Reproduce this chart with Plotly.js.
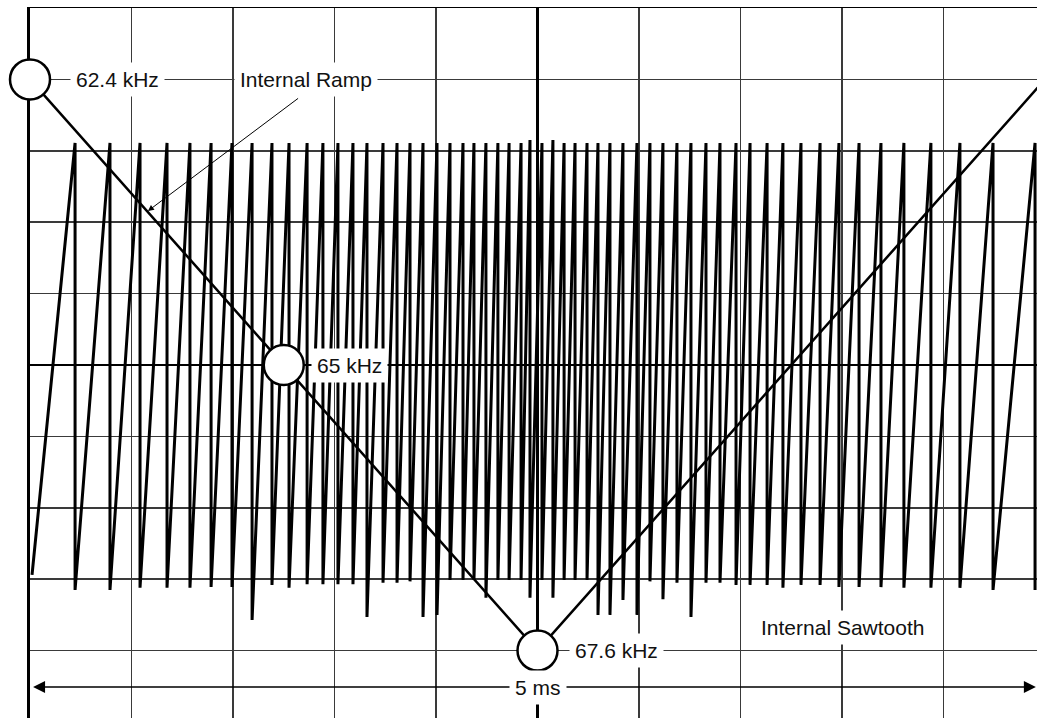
<!DOCTYPE html>
<html>
<head>
<meta charset="utf-8">
<script src="https://cdn.plot.ly/plotly-3.0.1.min.js"></script>
<style>html,body{margin:0;padding:0;background:#fff;}#chart{width:1037px;height:718px;}</style>
</head>
<body>
<div id="chart"></div>
<script>
// Time axis in ms (0.5 ms/div, centred), vertical axis in divisions
const sawStart = {t: -2.49, v: -2.94};
const sawDropTimes = [-2.278,-2.106,-1.958,-1.825,-1.712,-1.608,-1.505,-1.406,-1.308,-1.224,
  -1.135,-1.057,-0.983,-0.909,-0.840,-0.761,-0.692,-0.628,-0.564,-0.495,
  -0.431,-0.367,-0.313,-0.254,-0.195,-0.140,-0.081,-0.037,0.022,0.076,
  0.131,0.185,0.244,0.298,0.357,0.421,0.490,0.554,0.618,0.687,
  0.756,0.830,0.899,0.978,1.047,1.131,1.209,1.298,1.392,1.485,
  1.584,1.692,1.805,1.938,2.081,2.244,2.451];
const sawTops = [3.11,3.11,3.11,3.11,3.11,3.11,3.11,3.11,3.11,3.11,
  3.11,3.11,3.11,3.11,3.11,3.11,3.11,3.11,3.11,3.11,
  3.11,3.11,3.11,3.11,3.11,3.11,3.11,3.15,3.11,3.15,
  3.11,3.11,3.11,3.11,3.11,3.11,3.11,3.11,3.11,3.11,
  3.11,3.11,3.11,3.11,3.11,3.11,3.11,3.11,3.11,3.11,
  3.11,3.11,3.11,3.11,3.11,3.11,3.11];
const sawBottoms = [-3.15,-3.15,-3.12,-3.12,-3.12,-3.11,-3.11,-3.57,-3.08,-3.12,
  -3.07,-3.07,-3.07,-3.07,-3.53,-3.05,-3.05,-3.03,-3.53,-3.50,
  -3.01,-3.01,-3.01,-3.26,-3.01,-3.01,-3.01,-3.26,-3.01,-3.26,
  -3.01,-3.01,-3.01,-3.50,-3.50,-3.29,-3.50,-3.03,-3.28,-3.05,
  -3.53,-3.05,-3.05,-3.08,-3.08,-3.08,-3.12,-3.08,-3.08,-3.11,
  -3.11,-3.11,-3.12,-3.12,-3.12,-3.15,-3.15];

const rampTimes = [-2.5, 0, 2.5];
const rampLevels = [4, -4, 4];
const markerTimes = [-2.5, -1.25, 0];
const markerLevels = [4, 0, -4];
const markerLabels = ['62.4 kHz', '65 kHz', '67.6 kHz'];
const labelTimes = [-2.071, -0.924, 0.387];

const sweepSpan = {start: -2.485, end: 2.455, level: -4.51, label: '5 ms'};

// build sawtooth path
const sx = [sawStart.t], sy = [sawStart.v];
for (let i = 0; i < sawDropTimes.length; i++) {
  sx.push(sawDropTimes[i]); sy.push(sawTops[i]);
  sx.push(sawDropTimes[i]); sy.push(sawBottoms[i]);
}

const FONT = {family: 'Liberation Sans, Arial, sans-serif', size: 21, color: '#111'};

const traces = [
  {x: sx, y: sy, mode: 'lines', line: {color: '#000', width: 3}, hoverinfo: 'skip'},
  {x: rampTimes, y: rampLevels, mode: 'lines', line: {color: '#000', width: 2.5}, hoverinfo: 'skip'},
  {x: markerTimes, y: markerLevels, mode: 'markers', cliponaxis: false,
   marker: {size: 40, color: '#fff', line: {color: '#000', width: 2.5}}, hoverinfo: 'skip'}
];

const annotations = [];
// double-headed span arrow
annotations.push({x: sweepSpan.start, y: sweepSpan.level, ax: 0, ay: sweepSpan.level, xref: 'x', yref: 'y', axref: 'x', ayref: 'y',
  text: '', showarrow: true, arrowhead: 2, arrowsize: 1.6, arrowwidth: 1.5, arrowcolor: '#000', standoff: 0});
annotations.push({x: sweepSpan.end, y: sweepSpan.level, ax: 0, ay: sweepSpan.level, xref: 'x', yref: 'y', axref: 'x', ayref: 'y',
  text: '', showarrow: true, arrowhead: 2, arrowsize: 1.6, arrowwidth: 1.5, arrowcolor: '#000', standoff: 0});
// Internal Ramp pointer
annotations.push({x: -1.919, y: 2.157, ax: -1.172, ay: 3.75, xref: 'x', yref: 'y', axref: 'x', ayref: 'y',
  text: '', showarrow: true, arrowhead: 2, arrowsize: 1.2, arrowwidth: 1, arrowcolor: '#000', standoff: 0});
// labels
for (let i = 0; i < markerLabels.length; i++) {
  annotations.push({x: labelTimes[i], y: markerLevels[i], xref: 'x', yref: 'y', text: markerLabels[i],
    showarrow: false, bgcolor: '#fff', borderpad: 5, font: FONT});
}
annotations.push({x: -1.138, y: 4, xref: 'x', yref: 'y', text: 'Internal Ramp', showarrow: false, bgcolor: '#fff', borderpad: 5, font: FONT});
annotations.push({x: 1.5, y: -3.68, xref: 'x', yref: 'y', text: 'Internal Sawtooth', showarrow: false, bgcolor: '#fff', borderpad: 5, font: FONT});
annotations.push({x: 0, y: sweepSpan.level, xref: 'x', yref: 'y', text: sweepSpan.label, showarrow: false, bgcolor: '#fff', borderpad: 5, font: FONT});

const layout = {
  width: 1037, height: 718,
  margin: {l: 30, r: 0, t: 8, b: 0},
  paper_bgcolor: '#fff', plot_bgcolor: '#fff',
  showlegend: false,
  font: FONT,
  xaxis: {range: [-2.5, 2.4606], dtick: 0.5, tick0: 0, showgrid: true, gridcolor: '#3a3a3a', gridwidth: 1.5,
    zeroline: true, zerolinecolor: '#000', zerolinewidth: 2.5, showticklabels: false, ticks: '',
    side: 'top', showline: true, linecolor: '#000', linewidth: 1.5, layer: 'below traces', fixedrange: true},
  yaxis: {range: [-4.944, 5], dtick: 1, tick0: 0, showgrid: true, gridcolor: '#3a3a3a', gridwidth: 1.5,
    zeroline: true, zerolinecolor: '#000', zerolinewidth: 2.5, showticklabels: false, ticks: '',
    showline: true, linecolor: '#000', linewidth: 3, layer: 'below traces', fixedrange: true},
  annotations: annotations
};

Plotly.newPlot('chart', traces, layout, {staticPlot: true, displayModeBar: false});
</script>
</body>
</html>
